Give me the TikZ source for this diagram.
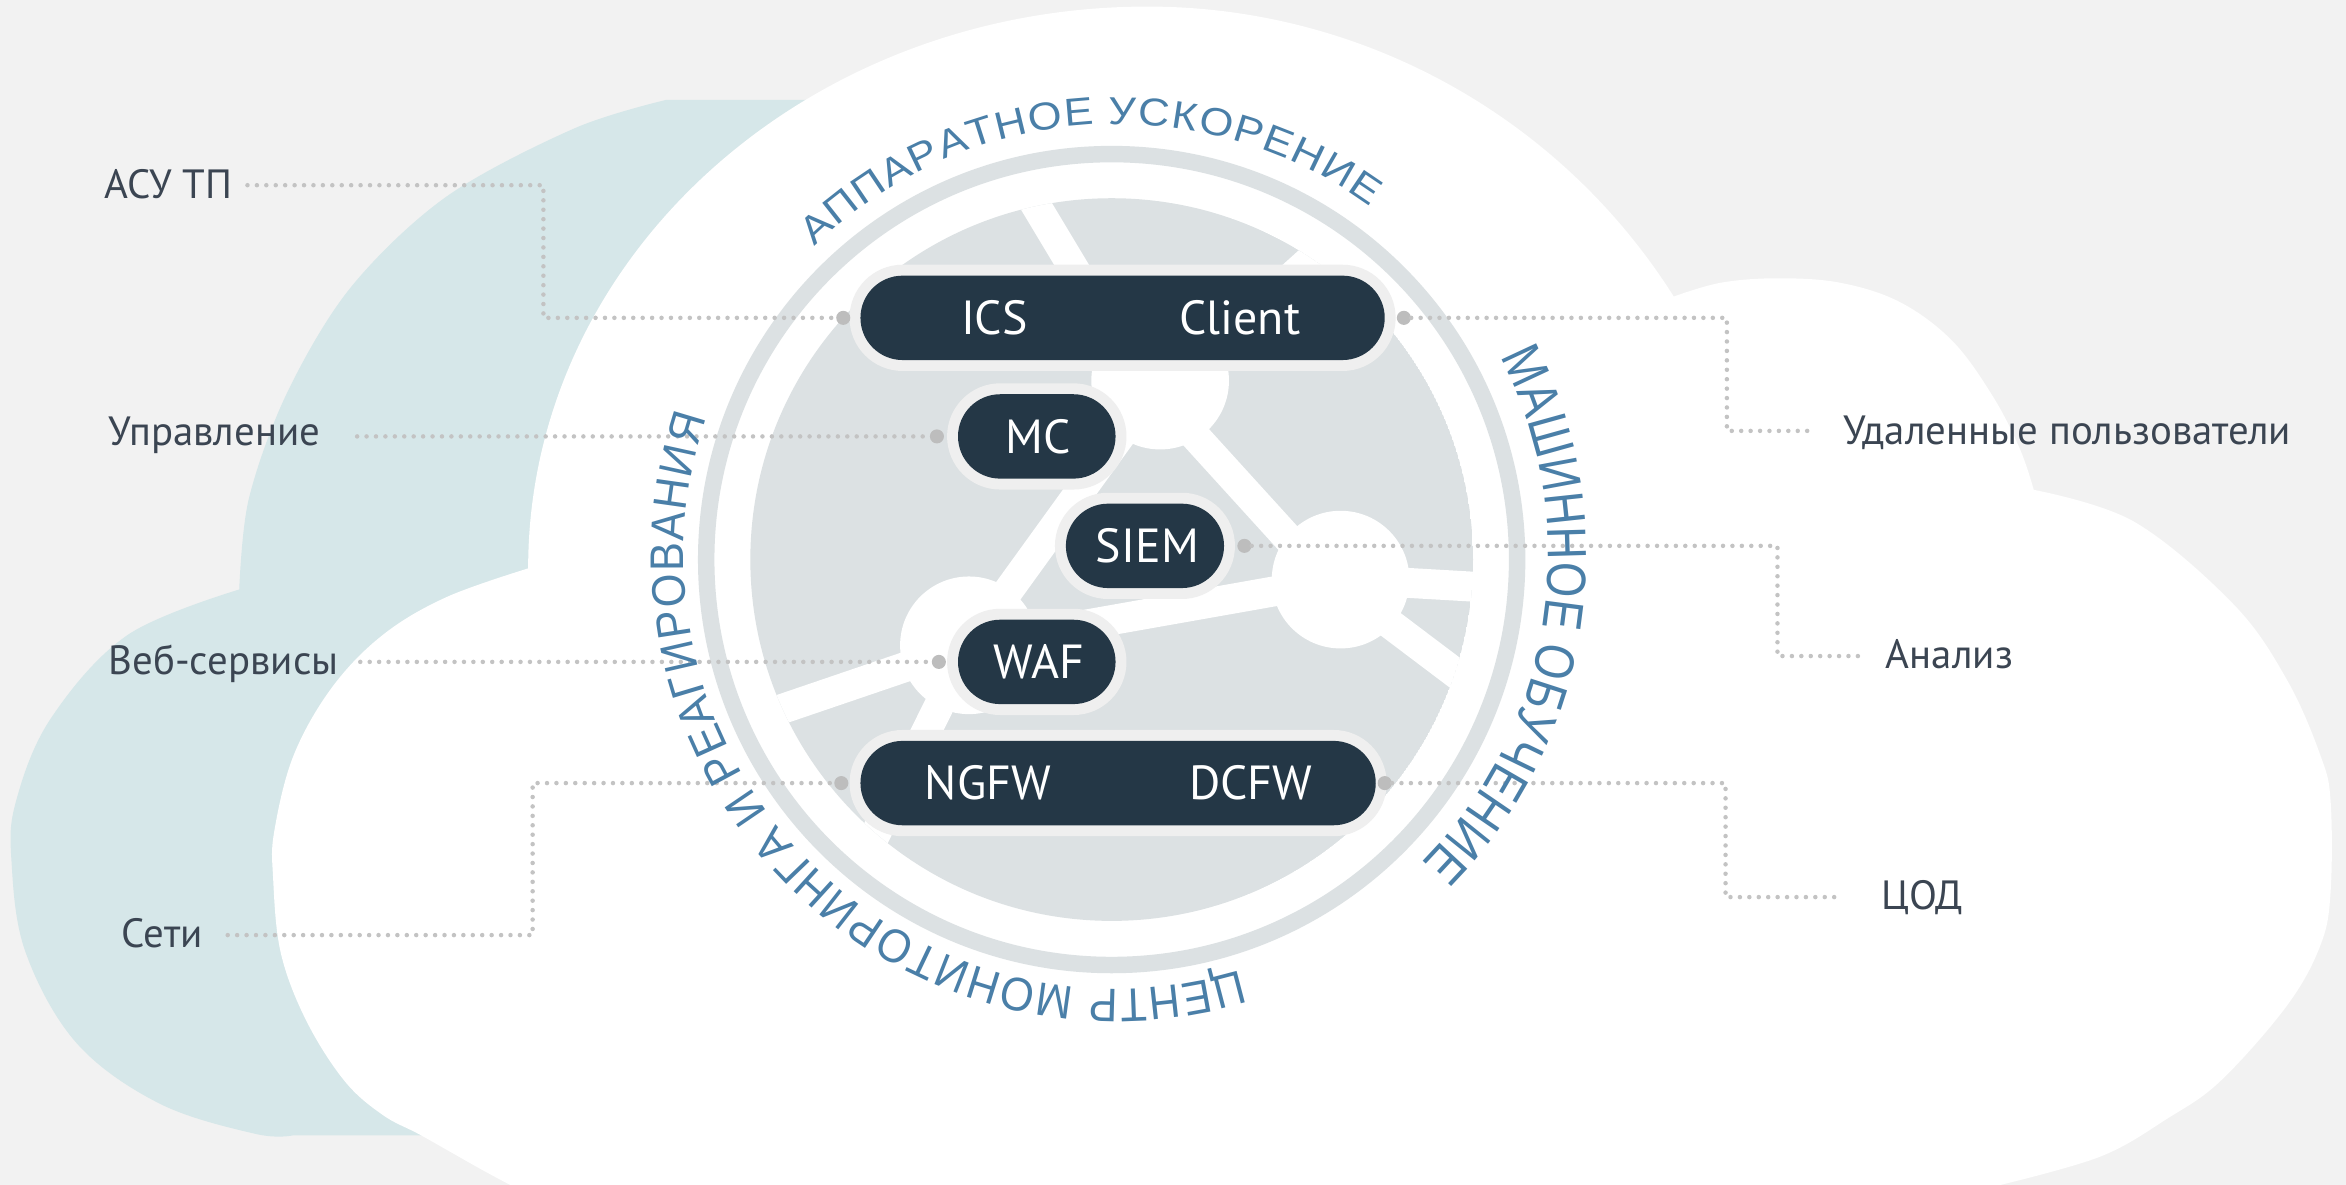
\documentclass[tikz,border=0pt]{standalone}
\usepackage{fontspec}
\setmainfont{PT Sans}
\newfontfamily\arcTop[FakeStretch=1.12]{Liberation Sans}
\newfontfamily\arcSide[FakeStretch=0.82]{Liberation Sans}
\newfontfamily\arcBot[FakeStretch=0.92]{Liberation Sans}
\usetikzlibrary{decorations.text}
\definecolor{bgc}{HTML}{F2F2F2}
\definecolor{tealc}{HTML}{D6E7E9}
\definecolor{diskc}{HTML}{DCE1E3}
\definecolor{pillc}{HTML}{243746}
\definecolor{haloc}{HTML}{EFEFEF}
\definecolor{dotc}{HTML}{BDBDBD}
\definecolor{linec}{HTML}{C3C3C3}
\definecolor{labelc}{HTML}{3B4552}
\definecolor{arcc}{HTML}{4A7FA8}
\tikzset{
  pillbox/.style={rectangle, rounded corners=28.2pt, fill=pillc,
    preaction={draw=haloc, line width=14.6pt},
    minimum height=56.4pt, inner sep=0pt},
  pilltxt/.style={text=white, font=\fontsize{32}{32}\selectfont, inner sep=0pt,
    text height=22.4pt, text depth=0pt, anchor=center},
  lbl/.style={text=labelc, font=\fontsize{27.3}{27.3}\selectfont, inner sep=0pt, anchor=base west},
  conn/.style={draw=linec, line width=3pt, line cap=round, dash pattern=on 0pt off 6.3pt},
  enddot/.style={circle, fill=dotc, minimum size=9.4pt, inner sep=0pt},
  net/.style={draw=white, line width=20pt},
  arctext/.style={decorate, decoration={text along path, text align={fit to path}, text color=arcc}}
}
\begin{document}
\begin{tikzpicture}[x=1pt,y=1pt]
\useasboundingbox (0,0) rectangle (1568,792);
\fill[bgc] (0,0) rectangle (1568,792);

% teal back cloud
\fill[tealc] (760,725.3) -- (445.5,725.3)
  -- plot[smooth, tension=0.55] coordinates {(445.5,725.3) (383.7,706.1) (298.4,660.6) (234.5,600) (191.8,529.3) (166.3,458.6) (159.9,398)}
  -- plot[smooth, tension=0.6] coordinates {(159.9,398) (85.3,367.6) (34.1,312) (10.7,256.5) (7.7,216) (17.1,155.5) (51.2,94.8) (106.6,54.4) (170.5,34.2) (196.1,33.2)}
  -- (760,33.2) -- cycle;

% white front cloud
\fill[white] (341,-10) -- (341,0)
  -- plot[smooth, tension=0.6] coordinates {(341,0) (319.7,11.5) (281.4,33.2) (255.8,46.8) (230.2,69.6) (204.6,110) (187.6,155.4) (182.5,206) (183.3,236.3) (196.1,286.8) (221.7,332.3) (255.8,367.6) (298.4,392.9) (353,412.1)}
  arc[start angle=180, end angle=90, x radius=414pt, y radius=375.5pt]
  arc[start angle=90, end angle=32.3, radius=416pt]
  -- plot[smooth, tension=0.6] coordinates {(1118.7,593.8) (1150,603) (1188,606) (1230,603) (1270,590) (1305,564) (1332,527) (1350,492) (1359.3,464.6)}
  -- plot[smooth, tension=0.6] coordinates {(1359.3,464.6) (1426.2,443.4) (1493,387.9) (1528.7,337.3) (1551,286.8) (1557.7,256.5) (1557.7,196) (1551,160.5) (1528.7,120.1) (1484.2,69.6) (1448.5,44.3) (1403.9,19) (1337,0)}
  -- (1337,-10) -- cycle;

% ring and disk
\draw[diskc, line width=11pt] (743,418) circle[radius=271pt];
\begin{scope}
  \clip (743,418) circle[radius=241.5pt];
  \fill[diskc] (743,418) circle[radius=241.5pt];
  \draw[net] (685,667) -- (757,547);
  \draw[net] (790,541) -- (920,658);
  \draw[net] (772,530) -- (892,398);
  \draw[net] (896,405) -- (1000,399);
  \draw[net] (896,400) -- (1010,314);
  \draw[net] (896,404.6) -- (647.6,360.7);
  \draw[net] (647.6,360.7) -- (775.4,537.6);
  \draw[net] (647.6,360.7) -- (490,307);
  \draw[net] (647.6,360.7) -- (575,214);
  \fill[white] (775.4,537.6) circle[radius=46pt];
  \fill[white] (896,404.6) circle[radius=46pt];
  \fill[white] (647.6,360.7) circle[radius=46pt];
\end{scope}

% pills
\node[pillbox, minimum width=350.4pt] (icsc) at (750.3,579.55) {};
\node[pillbox, minimum width=105.3pt] (mc) at (692.95,500.3) {};
\node[pillbox, minimum width=105.7pt] (siem) at (765.25,427.15) {};
\node[pillbox, minimum width=105.3pt] (waf) at (692.95,349.6) {};
\node[pillbox, minimum width=344.4pt] (ngdc) at (747.3,268.6) {};
\node[pilltxt] (tICS) at (664.6,579.55) {ICS};
\node[pilltxt] (tClient) at (828.7,579.55) {Client};
\node[pilltxt] (tMC) at (693.6,500.3) {MC};
\node[pilltxt] (tSIEM) at (766.9,427.15) {SIEM};
\node[pilltxt] (tWAF) at (694.4,349.6) {WAF};
\node[pilltxt] (tNGFW) at (660.3,268.6) {NGFW};
\node[pilltxt] (tDCFW) at (836,268.6) {DCFW};

% end dots
\node[enddot] (dICS) at (563.6,579.55) {};
\node[enddot] (dClient) at (938.3,579.55) {};
\node[enddot] (dMC) at (626.2,500.3) {};
\node[enddot] (dSIEM) at (831.7,427.15) {};
\node[enddot] (dWAF) at (627.5,349.6) {};
\node[enddot] (dNGFW) at (562.3,268.6) {};
\node[enddot] (dDCFW) at (925.5,268.6) {};

% labels
\node[lbl] (asu) at (69.5,659.6) {АСУ ТП};
\node[lbl] (upr) at (72.5,493.9) {Управление};
\node[lbl] (web) at (72.5,340.9) {Веб-сервисы};
\node[lbl] (seti) at (81,159) {Сети};
\node[lbl] (udal) at (1232.2,495) {Удаленные пользователи};
\node[lbl] (anal) at (1260.3,344.9) {Анализ};
\node[lbl] (cod) at (1257.6,184.3) {ЦОД};

% connectors
\coordinate (sASU) at (165.4,668.2);
\coordinate (kASU) at (363.2,668.2);
\coordinate (sUPR) at (238.7,500.3);
\coordinate (sWEB) at (240.8,349.6);
\coordinate (sSETI) at (152.2,167);
\coordinate (kSETI) at (356,167);
\coordinate (kUDAL) at (1154.2,504);
\coordinate (eUDAL) at (1212.2,504);
\coordinate (kAN) at (1188,353.5);
\coordinate (eAN) at (1243,353.5);
\coordinate (kCOD) at (1153.3,192.4);
\coordinate (eCOD) at (1230,192.4);
\draw[conn] (sASU) -- (kASU) |- (dICS);
\draw[conn] (sUPR) -- (dMC);
\draw[conn] (sWEB) -- (dWAF);
\draw[conn] (sSETI) -- (kSETI) |- (dNGFW);
\draw[conn] (dClient) -| (kUDAL) -- (eUDAL);
\draw[conn] (dSIEM) -| (kAN) -- (eAN);
\draw[conn] (dDCFW) -| (kCOD) -- (eCOD);

% curved texts
\begin{scope}[shift={(746,420)}]
  \path[arctext, decoration={text={|\arcTop\fontsize{26pt}{26pt}\selectfont|АППАРАТНОЕ УСКОРЕНИЕ}}]
    (134.3:289pt) arc[start angle=134.3, end angle=54, radius=289pt];
  \path[arctext, decoration={text={|\arcSide\fontsize{37pt}{37pt}\selectfont|МАШИННОЕ ОБУЧЕНИЕ}}]
    (27.5:289pt) arc[start angle=27.5, end angle=-45, radius=289pt];
  \path[arctext, decoration={text={|\arcBot\fontsize{31.5pt}{31.5pt}\selectfont|ЦЕНТР МОНИТОРИНГА И РЕАГИРОВАНИЯ}}]
    (-73.3:289pt) arc[start angle=-73.3, end angle=-198.7, radius=289pt];
\end{scope}
\end{tikzpicture}
\end{document}
